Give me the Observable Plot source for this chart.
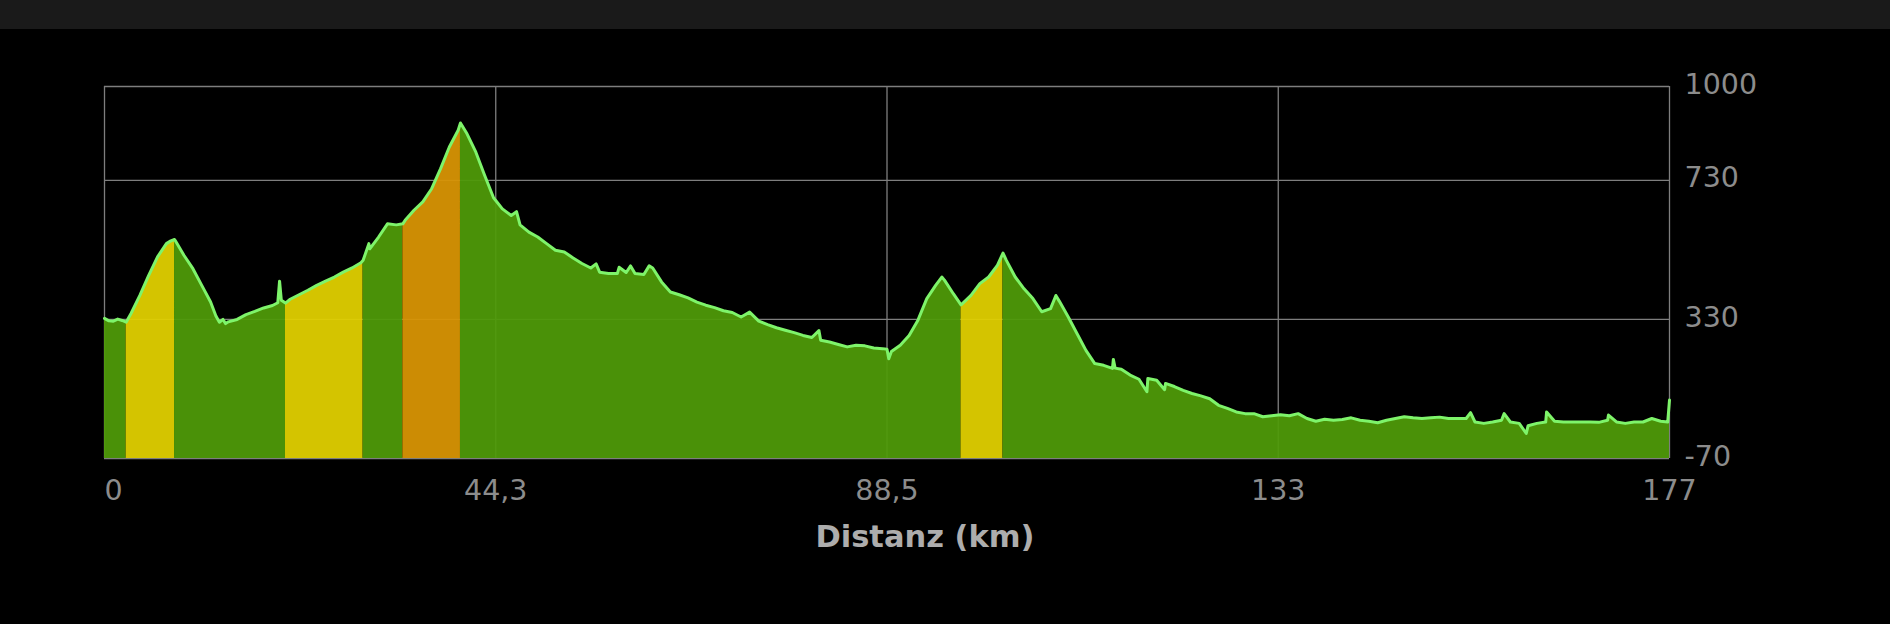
<!DOCTYPE html>
<html>
<head>
<meta charset="utf-8">
<script src="https://cdn.jsdelivr.net/npm/d3@7"></script>
<script src="https://cdn.jsdelivr.net/npm/@observablehq/plot@0.6"></script>
<style>
  html, body { margin: 0; padding: 0; background: #000; }
  #bar { height: 29px; background: #1a1a1a; }
  #chart svg { display: block; }
</style>
</head>
<body>
<div id="bar"></div>
<div id="chart"></div>
<script>
// Distance (km) and elevation (m)
const km = [
  0, 0.5, 1, 1.5, 2, 2.45, 3, 4, 5, 6, 7, 7.5, 7.92, 8, 9, 10, 11, 12, 12.6, 13, 13.4, 13.7, 14, 15, 16, 17, 18, 19, 19.6, 19.8, 20, 20.47,
  21, 22, 23, 24, 25, 26, 27, 28, 29, 29.25, 29.9, 30, 31, 32, 33, 33.74, 34, 35, 36, 37, 38, 39, 40, 40.26, 41, 42, 43, 44,
  45, 46, 46.6, 47, 48, 49, 50, 51, 52, 53, 54, 55, 55.6, 56, 57, 58, 58.2, 59, 59.5, 60, 61, 61.6, 62, 63, 64, 65, 66, 67, 68, 69, 70,
  71, 72, 72.96, 74, 75, 76, 77, 78, 79, 80, 80.8, 81, 82, 83, 84, 85, 86, 87, 88, 88.5, 88.7, 89, 90, 91, 92, 93, 94, 94.7, 95, 96, 96.87,
  97, 98, 99, 100, 101, 101.62, 102, 103, 104, 105, 106, 107, 107.6, 108, 109, 110, 111, 112, 113, 114, 114.1, 114.3, 115, 116, 117, 117.9,
  118, 119, 119.9, 120, 121, 122, 123, 124, 125, 126, 127, 128, 129, 130, 131, 132, 133, 134, 135, 136, 137, 138, 139, 140,
  141, 142, 143, 144, 145, 146, 147, 148, 149, 150, 151, 152, 153, 154, 154.5, 155, 156, 157, 158, 158.3, 159, 160, 160.8, 161, 162, 163, 163.1,
  164, 165, 166, 167, 168, 169, 170, 170.1, 171, 172, 173, 174, 175, 176, 176.8, 177
];
const elevation = [
  333, 326, 325, 331, 327, 322, 347, 399, 457, 510, 548, 556, 560, 557, 514, 476, 428, 380, 340, 322, 330, 318, 323, 330, 344, 353, 363, 370, 378, 440, 385, 377,
  388, 401, 414, 428, 440, 452, 466, 478, 493, 500, 548, 533, 567, 605, 602, 605, 615, 644, 668, 706, 763, 826, 874, 895, 864, 811, 744, 680,
  648, 629, 640, 602, 581, 567, 548, 529, 524, 507, 491, 478, 490, 466, 462, 462, 480, 465, 484, 462, 459, 484, 478, 438, 409, 401, 392, 380, 371, 364, 355,
  350, 337, 351, 325, 315, 306, 299, 292, 284, 278, 298, 270, 265, 258, 251, 256, 254, 248, 246, 244, 217, 238, 256, 284, 328, 390, 428, 452, 443, 404, 372,
  375, 399, 433, 452, 486, 521, 500, 452, 418, 390, 352, 361, 399, 382, 337, 289, 241, 203, 198, 189, 215, 190, 187, 170, 158, 122,
  160, 155, 128, 146, 137, 126, 117, 110, 102, 83, 74, 64, 59, 59, 50, 53, 56, 53, 59, 45, 37, 43, 40, 42,
  47, 40, 37, 33, 40, 45, 50, 47, 45, 47, 49, 45, 45, 45, 62, 35, 31, 35, 40, 59, 35, 31, 2, 24, 31, 35, 64,
  37, 35, 35, 35, 35, 34, 40, 55, 35, 31, 35, 35, 45, 37, 35, 98
];

// Gradient sections (km ranges) and their class
const bandStart = [2.45, 20.47, 33.74, 96.87];
const bandEnd   = [7.92, 29.25, 40.26, 101.62];
const bandGrade = ["mittel", "mittel", "steil", "mittel"];
const gradeClasses = ["flach", "mittel", "steil"];

// Axis ticks
const xTicks = [0, 44.25, 88.5, 132.75, 177];
const xTickLabels = ["0", "44,3", "88,5", "133", "177"];
const yTicks = [-70, 330, 730, 1000];
const yTickLabels = ["-70", "330", "730", "1000"];
const xLabel = "Distanz (km)";

// Build tables
const profile = km.map((k, i) => ({km: k, ele: elevation[i]}));
const segments = [];
let prev = 0;
bandStart.forEach((s, i) => {
  segments.push({start: prev, end: s, grade: "flach"});
  segments.push({start: s, end: bandEnd[i], grade: bandGrade[i]});
  prev = bandEnd[i];
});
segments.push({start: prev, end: 177, grade: "flach"});
const table = [];
segments.forEach((seg, si) => {
  profile.forEach(p => {
    if (p.km >= seg.start && p.km <= seg.end) table.push({...p, seg: si, grade: seg.grade});
  });
});

const gridColor = "#7e7e7e";
const tickColor = "#8c8c8c";
const font = "'DejaVu Sans', sans-serif";

const chart = Plot.plot({
  width: 1890,
  height: 595,
  marginTop: 57,
  marginBottom: 166,
  marginLeft: 104,
  marginRight: 221,
  style: {background: "#000", color: tickColor, fontFamily: font},
  x: {domain: [0, 177]},
  y: {domain: [-70, 1000]},
  color: {domain: gradeClasses, range: ["#4f9a08", "#e1d000", "#d99504"]},
  marks: [
    Plot.gridY(yTicks, {stroke: gridColor, strokeOpacity: 1, strokeWidth: 1.3}),
    Plot.gridX(xTicks, {stroke: gridColor, strokeOpacity: 1, strokeWidth: 1.3}),
    Plot.areaY(table, {x: "km", y1: -70, y2: "ele", z: "seg", fill: "grade", fillOpacity: 0.94}),
    Plot.lineY(profile, {x: "km", y: "ele", stroke: "#7ef46a", strokeWidth: 3}),
    Plot.axisY(yTicks, {anchor: "right", tickSize: 0, tickPadding: 15, fontSize: 28.5, fill: tickColor, dy: -2, label: null,
      tickFormat: d => yTickLabels[yTicks.indexOf(d)]}),
    Plot.axisX([0], {anchor: "bottom", tickSize: 0, tickPadding: 21, textAnchor: "start", fontSize: 28.5, fill: tickColor, label: null,
      tickFormat: d => xTickLabels[xTicks.indexOf(d)]}),
    Plot.axisX(xTicks.slice(1), {anchor: "bottom", tickSize: 0, tickPadding: 21, fontSize: 28.5, fill: tickColor, label: null,
      tickFormat: d => xTickLabels[xTicks.indexOf(d)]}),
    Plot.text([xLabel], {text: d => d, frameAnchor: "bottom", dx: 38, dy: 67, lineAnchor: "top",
      fontSize: 30.5, fontWeight: "bold", fill: "#adadad"})
  ]
});
document.getElementById("chart").append(chart);
</script>
</body>
</html>
